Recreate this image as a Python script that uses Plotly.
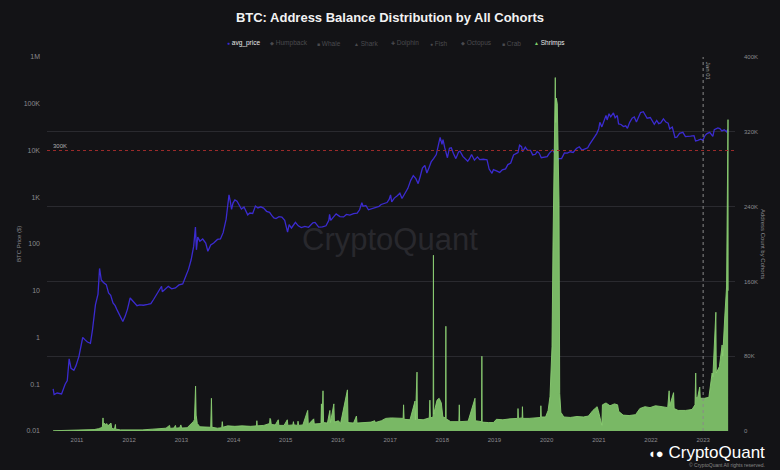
import plotly.graph_objects as go

# ---------------- data ----------------
price_dates = [
    "2010-07-18", "2010-07-25", "2010-08-15", "2010-09-15", "2010-10-10", "2010-10-25", "2010-11-07", "2010-11-20",
    "2010-12-10", "2010-12-25", "2011-01-15", "2011-02-10", "2011-02-25", "2011-03-15", "2011-04-05", "2011-04-20",
    "2011-05-10", "2011-05-28", "2011-06-08", "2011-06-20", "2011-07-05", "2011-07-25", "2011-08-10", "2011-08-25",
    "2011-09-10", "2011-09-25", "2011-10-10", "2011-10-25", "2011-11-18", "2011-12-05", "2011-12-20", "2012-01-08",
    "2012-01-25", "2012-02-10", "2012-02-25", "2012-03-15", "2012-04-10", "2012-05-10", "2012-06-01", "2012-06-20",
    "2012-07-15", "2012-08-15", "2012-08-20", "2012-09-10", "2012-10-01", "2012-10-25", "2012-11-20", "2012-12-15",
    "2013-01-10", "2013-01-30", "2013-02-20", "2013-03-10", "2013-03-28", "2013-04-09", "2013-04-16", "2013-04-25",
    "2013-05-10", "2013-05-30", "2013-06-20", "2013-07-05", "2013-07-25", "2013-08-15", "2013-09-10", "2013-10-01",
    "2013-10-20", "2013-11-10", "2013-11-30", "2013-12-08", "2013-12-18", "2013-12-28", "2014-01-10", "2014-01-25",
    "2014-02-10", "2014-02-25", "2014-03-15", "2014-04-10", "2014-04-25", "2014-05-15", "2014-06-03", "2014-06-20",
    "2014-07-10", "2014-07-30", "2014-08-20", "2014-09-10", "2014-09-25", "2014-10-10", "2014-10-25", "2014-11-15",
    "2014-12-05", "2014-12-25", "2015-01-14", "2015-01-25", "2015-02-10", "2015-03-10", "2015-03-30", "2015-04-20",
    "2015-05-15", "2015-06-10", "2015-07-10", "2015-07-25", "2015-08-20", "2015-09-15", "2015-10-10", "2015-10-30",
    "2015-11-04", "2015-11-12", "2015-12-05", "2015-12-20", "2016-01-15", "2016-02-10", "2016-03-01", "2016-03-25",
    "2016-04-20", "2016-05-15", "2016-06-01", "2016-06-17", "2016-06-25", "2016-07-15", "2016-08-02", "2016-08-25",
    "2016-09-20", "2016-10-15", "2016-10-30", "2016-11-20", "2016-12-10", "2016-12-25", "2017-01-04", "2017-01-12",
    "2017-01-30", "2017-02-20", "2017-03-10", "2017-03-25", "2017-04-15", "2017-05-05", "2017-05-25", "2017-06-12",
    "2017-06-30", "2017-07-16", "2017-07-30", "2017-08-15", "2017-09-01", "2017-09-15", "2017-09-30", "2017-10-15",
    "2017-11-01", "2017-11-20", "2017-12-07", "2017-12-17", "2017-12-30", "2018-01-06", "2018-01-18", "2018-02-06",
    "2018-02-20", "2018-03-05", "2018-03-20", "2018-04-06", "2018-04-25", "2018-05-05", "2018-05-25", "2018-06-10",
    "2018-06-28", "2018-07-10", "2018-07-25", "2018-08-14", "2018-09-04", "2018-09-20", "2018-10-15", "2018-11-10",
    "2018-11-25", "2018-12-15", "2018-12-25", "2019-01-15", "2019-02-07", "2019-02-25", "2019-03-20", "2019-04-05",
    "2019-04-25", "2019-05-15", "2019-05-30", "2019-06-15", "2019-06-26", "2019-07-10", "2019-07-17", "2019-08-05",
    "2019-08-20", "2019-09-10", "2019-09-26", "2019-10-15", "2019-10-27", "2019-11-10", "2019-11-25", "2019-12-15",
    "2020-01-05", "2020-01-20", "2020-02-12", "2020-03-01", "2020-03-13", "2020-03-25", "2020-04-15", "2020-05-05",
    "2020-05-25", "2020-06-15", "2020-07-05", "2020-07-28", "2020-08-17", "2020-09-05", "2020-09-25", "2020-10-15",
    "2020-10-28", "2020-11-15", "2020-11-30", "2020-12-17", "2020-12-31", "2021-01-08", "2021-01-22", "2021-02-08",
    "2021-02-20", "2021-02-28", "2021-03-13", "2021-03-25", "2021-04-13", "2021-04-25", "2021-05-10", "2021-05-19",
    "2021-06-05", "2021-06-22", "2021-07-08", "2021-07-20", "2021-08-05", "2021-08-22", "2021-09-06", "2021-09-21",
    "2021-10-05", "2021-10-20", "2021-11-08", "2021-11-25", "2021-12-05", "2021-12-27", "2022-01-10", "2022-01-24",
    "2022-02-10", "2022-02-24", "2022-03-10", "2022-03-29", "2022-04-15", "2022-05-01", "2022-05-12", "2022-05-30",
    "2022-06-18", "2022-07-01", "2022-07-20", "2022-08-12", "2022-08-30", "2022-09-15", "2022-10-05", "2022-10-29",
    "2022-11-09", "2022-11-25", "2022-12-15", "2022-12-30", "2023-01-14", "2023-01-28", "2023-02-16", "2023-03-10",
    "2023-03-20", "2023-04-14", "2023-04-28", "2023-05-12", "2023-05-29", "2023-06-10", "2023-06-15", "2023-06-22",
]
price_values = [
    0.08, 0.06, 0.065, 0.062, 0.10, 0.12, 0.35, 0.22,
    0.20, 0.25, 0.40, 1.0, 0.9, 0.8, 0.75, 1.5,
    5.0, 8.5, 30.0, 17.0, 15.0, 13.5, 9.0, 8.0,
    5.5, 4.8, 3.8, 3.0, 2.2, 2.9, 4.0, 7.0,
    6.0, 5.5, 4.8, 5.0, 4.9, 5.1, 5.3, 6.5,
    8.5, 12.5, 9.5, 11.0, 12.4, 11.0, 11.5, 13.3,
    14.0, 20.0, 29.0, 46.0, 90.0, 230.0, 75.0, 140.0,
    115.0, 128.0, 105.0, 70.0, 95.0, 105.0, 125.0, 128.0,
    175.0, 340.0, 1130.0, 850.0, 550.0, 750.0, 880.0, 820.0,
    680.0, 560.0, 620.0, 420.0, 460.0, 450.0, 650.0, 590.0,
    625.0, 585.0, 500.0, 475.0, 410.0, 360.0, 350.0, 385.0,
    375.0, 320.0, 180.0, 260.0, 220.0, 290.0, 245.0, 225.0,
    238.0, 228.0, 285.0, 290.0, 230.0, 232.0, 245.0, 320.0,
    430.0, 320.0, 390.0, 440.0, 385.0, 380.0, 430.0, 415.0,
    445.0, 455.0, 540.0, 760.0, 640.0, 665.0, 540.0, 575.0,
    600.0, 640.0, 700.0, 740.0, 770.0, 900.0, 1120.0, 800.0,
    960.0, 1080.0, 1220.0, 940.0, 1180.0, 1550.0, 2300.0, 2900.0,
    2500.0, 1950.0, 2750.0, 4200.0, 4800.0, 3300.0, 4300.0, 5700.0,
    6700.0, 8200.0, 14000.0, 19100.0, 13500.0, 17100.0, 11500.0, 7000.0,
    11200.0, 11400.0, 8600.0, 6700.0, 9300.0, 9700.0, 7500.0, 6800.0,
    5900.0, 6600.0, 8200.0, 6200.0, 7300.0, 6400.0, 6500.0, 6350.0,
    4000.0, 3250.0, 3900.0, 3650.0, 3400.0, 3850.0, 4050.0, 5000.0,
    5400.0, 8000.0, 8600.0, 9000.0, 13000.0, 12100.0, 9500.0, 11800.0,
    10200.0, 10100.0, 8050.0, 8300.0, 9500.0, 8800.0, 7000.0, 7100.0,
    7400.0, 8700.0, 10300.0, 8600.0, 5300.0, 6700.0, 6700.0, 8900.0,
    8800.0, 9400.0, 9100.0, 11000.0, 12000.0, 10200.0, 10700.0, 11400.0,
    13500.0, 16000.0, 19000.0, 23000.0, 29000.0, 40000.0, 32000.0, 46000.0,
    56000.0, 45000.0, 61000.0, 52500.0, 63500.0, 50000.0, 56000.0, 37000.0,
    36000.0, 32500.0, 33800.0, 29800.0, 40000.0, 49000.0, 52000.0, 40500.0,
    51500.0, 65000.0, 67500.0, 57000.0, 49000.0, 50700.0, 41800.0, 36300.0,
    44000.0, 37500.0, 39000.0, 47400.0, 40500.0, 38500.0, 29000.0, 31700.0,
    19000.0, 19300.0, 23200.0, 24400.0, 19800.0, 19700.0, 20300.0, 20800.0,
    16000.0, 16500.0, 17400.0, 16550.0, 20900.0, 23000.0, 24500.0, 20000.0,
    28000.0, 30400.0, 29300.0, 26300.0, 27700.0, 25900.0, 25100.0, 28500.0,
]

shrimp_dates = [
    "2010-07-18", "2010-09-01", "2010-11-01", "2011-01-01", "2011-03-01", "2011-05-01", "2011-06-01", "2011-06-20",
    "2011-06-28", "2011-07-02", "2011-07-05", "2011-07-12", "2011-07-20", "2011-07-28", "2011-08-05", "2011-08-20",
    "2011-08-27", "2011-09-01", "2011-09-20", "2011-09-27", "2011-09-29", "2011-11-01", "2012-01-01", "2012-04-01",
    "2012-06-15", "2012-08-01", "2012-09-15", "2012-10-10", "2012-10-14", "2012-11-10", "2012-11-20", "2012-11-24",
    "2012-12-20", "2012-12-28", "2013-01-03", "2013-02-10", "2013-03-01", "2013-03-25", "2013-04-02", "2013-04-10",
    "2013-04-14", "2013-04-22", "2013-05-10", "2013-06-20", "2013-07-25", "2013-07-30", "2013-08-03", "2013-09-10",
    "2013-10-10", "2013-10-14", "2013-10-18", "2013-11-20", "2014-01-10", "2014-03-01", "2014-05-01", "2014-06-10",
    "2014-06-13", "2014-06-16", "2014-08-01", "2014-09-10", "2014-09-13", "2014-09-17", "2014-09-22", "2014-10-20",
    "2014-11-10", "2014-11-14", "2014-12-20", "2015-01-12", "2015-01-16", "2015-02-20", "2015-02-24", "2015-02-28",
    "2015-03-25", "2015-03-28", "2015-04-02", "2015-05-01", "2015-06-04", "2015-06-08", "2015-07-16", "2015-07-20",
    "2015-09-05", "2015-09-08", "2015-09-12", "2015-09-19", "2015-09-23", "2015-10-20", "2015-11-06", "2015-11-10",
    "2015-12-04", "2015-12-08", "2016-01-05", "2016-01-20", "2016-03-08", "2016-03-12", "2016-04-20", "2016-05-10",
    "2016-05-14", "2016-07-07", "2016-08-20", "2016-09-15", "2016-09-19", "2016-11-01", "2016-12-01", "2017-01-10",
    "2017-02-20", "2017-04-02", "2017-04-05", "2017-04-09", "2017-05-20", "2017-06-24", "2017-06-27", "2017-07-08",
    "2017-07-11", "2017-08-20", "2017-10-02", "2017-10-06", "2017-10-10", "2017-10-29", "2017-10-31", "2017-11-02",
    "2017-11-25", "2017-12-10", "2017-12-25", "2018-01-05", "2018-01-24", "2018-01-26", "2018-01-28", "2018-03-01",
    "2018-04-27", "2018-04-30", "2018-05-03", "2018-07-01", "2018-08-18", "2018-08-21", "2018-10-03", "2018-10-05",
    "2018-10-07", "2018-11-20", "2018-12-25", "2019-01-15", "2019-03-01", "2019-04-20", "2019-06-13", "2019-06-15",
    "2019-06-18", "2019-07-14", "2019-07-16", "2019-07-19", "2019-09-01", "2019-10-15", "2019-11-20", "2019-11-22",
    "2019-11-25", "2019-12-25", "2020-01-12", "2020-01-25", "2020-02-08", "2020-02-15", "2020-02-22", "2020-03-02",
    "2020-03-05", "2020-03-09", "2020-03-16", "2020-03-22", "2020-03-28", "2020-04-02", "2020-04-10", "2020-05-01",
    "2020-06-15", "2020-08-01", "2020-09-15", "2020-10-20", "2020-11-20", "2020-12-20", "2020-12-28", "2021-01-22",
    "2021-01-26", "2021-02-20", "2021-03-20", "2021-04-20", "2021-05-12", "2021-05-20", "2021-06-20", "2021-08-01",
    "2021-09-15", "2021-10-15", "2021-11-20", "2021-12-25", "2022-02-01", "2022-03-20", "2022-04-28", "2022-05-08",
    "2022-05-12", "2022-06-08", "2022-06-12", "2022-07-10", "2022-09-01", "2022-10-15", "2022-11-05", "2022-11-10",
    "2022-11-13", "2022-11-25", "2022-12-08", "2022-12-12", "2023-01-10", "2023-02-10", "2023-02-28", "2023-03-05",
    "2023-03-10", "2023-03-31", "2023-04-03", "2023-04-25", "2023-05-14", "2023-05-18", "2023-06-02", "2023-06-14",
    "2023-06-24", "2023-06-25",
]
shrimp_values = [
    300, 400, 500, 700, 900, 1500, 2500, 3500,
    5000, 14000, 7000, 8500, 6500, 8000, 5500, 7500,
    8500, 3000, 2000, 7000, 2000, 1200, 1000, 1200,
    2000, 2500, 3000, 6000, 2800, 3200, 6000, 3000,
    3500, 6500, 3200, 3500, 6000, 10000, 12000, 48000,
    17000, 8000, 4500, 4000, 4000, 35000, 4000, 3000,
    3500, 10000, 4000, 5500, 5000, 5500, 5000, 5500,
    11000, 5500, 6000, 8000, 13500, 12500, 7000, 6500,
    12000, 6000, 6000, 12000, 6000, 6500, 10000, 6500,
    6000, 10500, 6000, 6500, 22000, 7000, 13000, 7500,
    8000, 29000, 9000, 43000, 9000, 8500, 22000, 9000,
    29000, 9500, 11000, 8000, 44000, 9000, 8500, 16000,
    8500, 9000, 9500, 11000, 9000, 11000, 13500, 14000,
    13500, 13500, 28000, 12500, 12000, 32000, 12000, 63000,
    12500, 12000, 14000, 33000, 14000, 15000, 188000, 18000,
    33000, 35000, 30000, 15000, 14000, 112000, 13000, 10000,
    10000, 28000, 10000, 10500, 35000, 11000, 10000, 80000,
    9500, 9000, 9000, 12500, 12000, 13000, 13500, 24000,
    13500, 14000, 26000, 13500, 13500, 14000, 14500, 27000,
    15000, 15000, 22000, 37000, 90000, 200000, 300000, 378000,
    330000, 356000, 350000, 272000, 245000, 40000, 20000, 15000,
    14500, 15500, 15000, 16000, 22000, 26000, 22000, 6000,
    28000, 30000, 27000, 29000, 28000, 21000, 17000, 16500,
    17500, 24000, 26000, 25000, 27000, 26000, 25000, 43000,
    27000, 41000, 24000, 22000, 22000, 23000, 28000, 62000,
    35000, 37000, 47000, 35000, 35000, 36000, 53000, 62000,
    58000, 127000, 62000, 69000, 92000, 80000, 124000, 154000,
    333000, 150000,
]

year_ticks = [f"{y}-01-01" for y in range(2011, 2024)]
year_labels = [str(y) for y in range(2011, 2024)]
price_tickvals = [0.01, 0.1, 1, 10, 100, 1000, 10000, 100000, 1000000]
price_ticktext = ["0.01", "0.1", "1", "10", "100", "1K", "10K", "100K", "1M"]
count_tickvals = [0, 80000, 160000, 240000, 320000, 400000]
count_ticktext = ["0", "80K", "160K", "240K", "320K", "400K"]
legend_names = ["avg_price", "Humpback", "Whale", "Shark", "Dolphin", "Fish", "Octopus", "Crab", "Shrimps"]

# ---------------- style ----------------
BG = "#131316"
PURPLE = "#3b2bd0"
GREEN_FILL = "#79b865"
GREEN_LINE = "#8acd72"
TICK = "#8a8a8e"
FONT = "Liberation Sans"

W, H = 780, 470
ML, MR, MT, MB = 47, 45, 57, 39
PW, PH = W - ML - MR, H - MT - MB


def px(xp):
    return (xp - ML) / PW


def py(yp):
    return (H - MB - yp) / PH


fig = go.Figure()
fig.add_trace(go.Scatter(
    x=price_dates, y=price_values, mode="lines", name="avg_price",
    line=dict(color=PURPLE, width=1.3), yaxis="y", showlegend=False,
))
fig.add_trace(go.Scatter(
    x=shrimp_dates, y=shrimp_values, mode="lines", name="Shrimps",
    fill="tozeroy", fillcolor=GREEN_FILL,
    line=dict(color=GREEN_LINE, width=0.9), yaxis="y2", showlegend=False,
))

fig.update_layout(
    width=W, height=H,
    paper_bgcolor=BG, plot_bgcolor=BG,
    margin=dict(l=ML, r=MR, t=MT, b=MB, autoexpand=False),
    font=dict(family=FONT, color=TICK),
    title=dict(
        text="<b>BTC: Address Balance Distribution by All Cohorts</b>",
        x=0.5, xanchor="center", y=1 - 17 / H, yanchor="middle",
        font=dict(size=13, color="#f2f2f2", family=FONT),
    ),
    xaxis=dict(
        type="date", range=["2010-06-05", "2023-08-12"],
        tickvals=year_ticks, ticktext=year_labels, automargin=False,
        tickfont=dict(size=6, color=TICK), showgrid=False, zeroline=False,
        showline=False, ticks="", ticklabelstandoff=4,
    ),
    yaxis=dict(
        type="log", range=[-2, 6], tickvals=price_tickvals, ticktext=price_ticktext,
        tickfont=dict(size=7, color=TICK), showgrid=False, zeroline=False, automargin=False,
        showline=False, ticks="", ticklabelstandoff=6,
    ),
    yaxis2=dict(
        overlaying="y", side="right", range=[0, 400000],
        tickvals=count_tickvals, ticktext=count_ticktext, automargin=False,
        tickfont=dict(size=6, color=TICK), showgrid=True, gridcolor="#2a2a2f",
        gridwidth=1, zeroline=False, showline=False, ticks="", ticklabelstandoff=8,
    ),
    showlegend=False,
)

shapes = [
    dict(type="line", xref="x", yref="paper", x0="2023-01-01", x1="2023-01-01", y0=0, y1=1,
         line=dict(color="#8a8a8a", width=1, dash="dot")),
    dict(type="line", xref="paper", yref="y2", x0=0, x1=1, y0=300000, y1=300000,
         line=dict(color="#9b2a2a", width=1, dash="dot")),
]
fig.update_layout(shapes=shapes)

ann = []
# axis titles
ann.append(dict(text="BTC Price ($)", xref="paper", yref="paper", x=px(19), y=py(244),
                xanchor="center", yanchor="middle",
                textangle=-90, showarrow=False, font=dict(size=6, color=TICK)))
ann.append(dict(text="Address Count by Cohorts", xref="paper", yref="paper", x=px(763), y=py(244),
                xanchor="center", yanchor="middle",
                textangle=90, showarrow=False, font=dict(size=6, color=TICK)))
# reference line labels
ann.append(dict(text="Jan 01", xref="x", yref="paper", x="2023-01-01", y=py(71), xshift=5,
                xanchor="center", yanchor="middle",
                textangle=90, showarrow=False, font=dict(size=6, color="#9a9a9a")))
ann.append(dict(text="300K", xref="paper", yref="y2", x=px(51), y=300000, xanchor="left",
                yanchor="bottom", showarrow=False, font=dict(size=6, color="#b0b0b0")))
# watermark
ann.append(dict(text="CryptoQuant", xref="paper", yref="paper", x=px(390), y=py(240),
                xanchor="center", yanchor="middle",
                showarrow=False, font=dict(size=31, color="#28282d", family=FONT)))
# logo
ann.append(dict(text="<span style='font-size:13px'>◖●</span> CryptoQuant", xref="paper", yref="paper",
                x=px(767), y=py(452), xanchor="right", yanchor="middle", showarrow=False,
                font=dict(size=17, color="#ffffff", family=FONT)))
ann.append(dict(text="© CryptoQuant All rights reserved.", xref="paper", yref="paper", x=px(767), y=py(465),
                xanchor="right", yanchor="middle", showarrow=False, font=dict(size=5, color="#888888")))

# legend (custom, compact)
leg_x = [225, 268, 315, 352, 389, 428, 459, 500, 532]
leg_sym = ["●", "◆", "■", "▲", "✚", "●", "◆", "■", "▲"]
leg_active = [True, False, False, False, False, False, False, False, True]
leg_col = [PURPLE, None, None, None, None, None, None, None, "#7fd06a"]
for name, xl, sym, act, col in zip(legend_names, leg_x, leg_sym, leg_active, leg_col):
    scol = col if act else "#4a4a4e"
    tcol = "#e8e8e8" if act else "#4a4a4e"
    ann.append(dict(
        text=f"<span style='color:{scol};font-size:5px'>{sym}</span> <span style='color:{tcol}'>{name}</span>",
        xref="paper", yref="paper", x=px(xl), y=py(43), xanchor="left", yanchor="middle",
        showarrow=False, font=dict(size=6.5, color=tcol),
    ))

fig.update_layout(annotations=ann)

fig.write_html(
    "out.html",
    config={"displayModeBar": False},
    post_script="document.body.style.margin='0';document.body.style.background='%s';" % BG,
)
